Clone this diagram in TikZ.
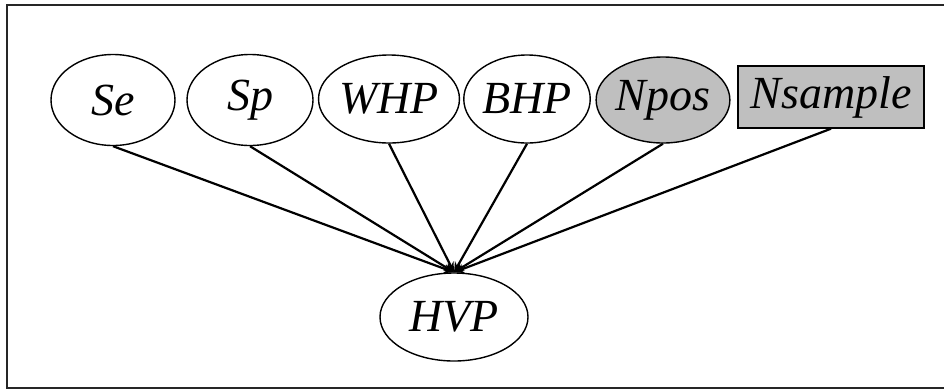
\documentclass[tikz,border=0pt]{standalone}
\usepackage{fontspec}
\setmainfont{Liberation Serif}
\usepackage{tikz}
\usetikzlibrary{shapes.geometric, arrows.meta}
\tikzset{
  var/.style   = {ellipse, draw, line width=1.4pt, fill=white, inner sep=0pt,
                  font=\fontsize{46}{46}\selectfont\itshape},
  varG/.style  = {ellipse, draw, line width=1.4pt, fill=black!25, inner sep=0pt,
                  font=\fontsize{46}{46}\selectfont\itshape},
  dataR/.style = {rectangle, draw, line width=1.4pt, fill=black!25, inner sep=0pt,
                  font=\fontsize{46}{46}\selectfont\itshape},
  arrow/.style = {line width=2.2pt, -{Stealth[length=10pt,width=9pt]}},
}
\begin{document}
\begin{tikzpicture}[x=1pt, y=-1pt]
    \useasboundingbox (0,0) rectangle (944,389);

    %% frame (open on the right)
    \draw[line width=2.4pt, black!85] (950,5) -- (7,5) -- (7,388) -- (950,388);

    %% top row
    \node[var, minimum width=124pt, minimum height=91pt]  (se)   at (113,100) {Se};
    \node[var, minimum width=126pt, minimum height=91pt]  (sp)   at (250,100) {Sp};
    \node[var, minimum width=134pt, minimum height=88pt]  (whp)  at (389,99)  {WHP};
    \node[var, minimum width=122pt, minimum height=88pt]  (bhp)  at (527,99)  {BHP};
    \node[varG, minimum width=124pt, minimum height=86pt] (npos) at (663,100) {Npos};
    \node[dataR, minimum width=186pt, minimum height=62pt] (nsam) at (831,97) {Nsample};

    %% bottom
    \node[var, minimum width=148pt, minimum height=88pt]  (hvp)  at (454,317) {HVP};

    \draw[arrow] (se.south)   -- (hvp.north);
    \draw[arrow] (sp.south)   -- (hvp.north);
    \draw[arrow] (whp.south)  -- (hvp.north);
    \draw[arrow] (bhp.south)  -- (hvp.north);
    \draw[arrow] (npos.south) -- (hvp.north);
    \draw[arrow] (nsam.south) -- (hvp.north);

\end{tikzpicture}
\end{document}
